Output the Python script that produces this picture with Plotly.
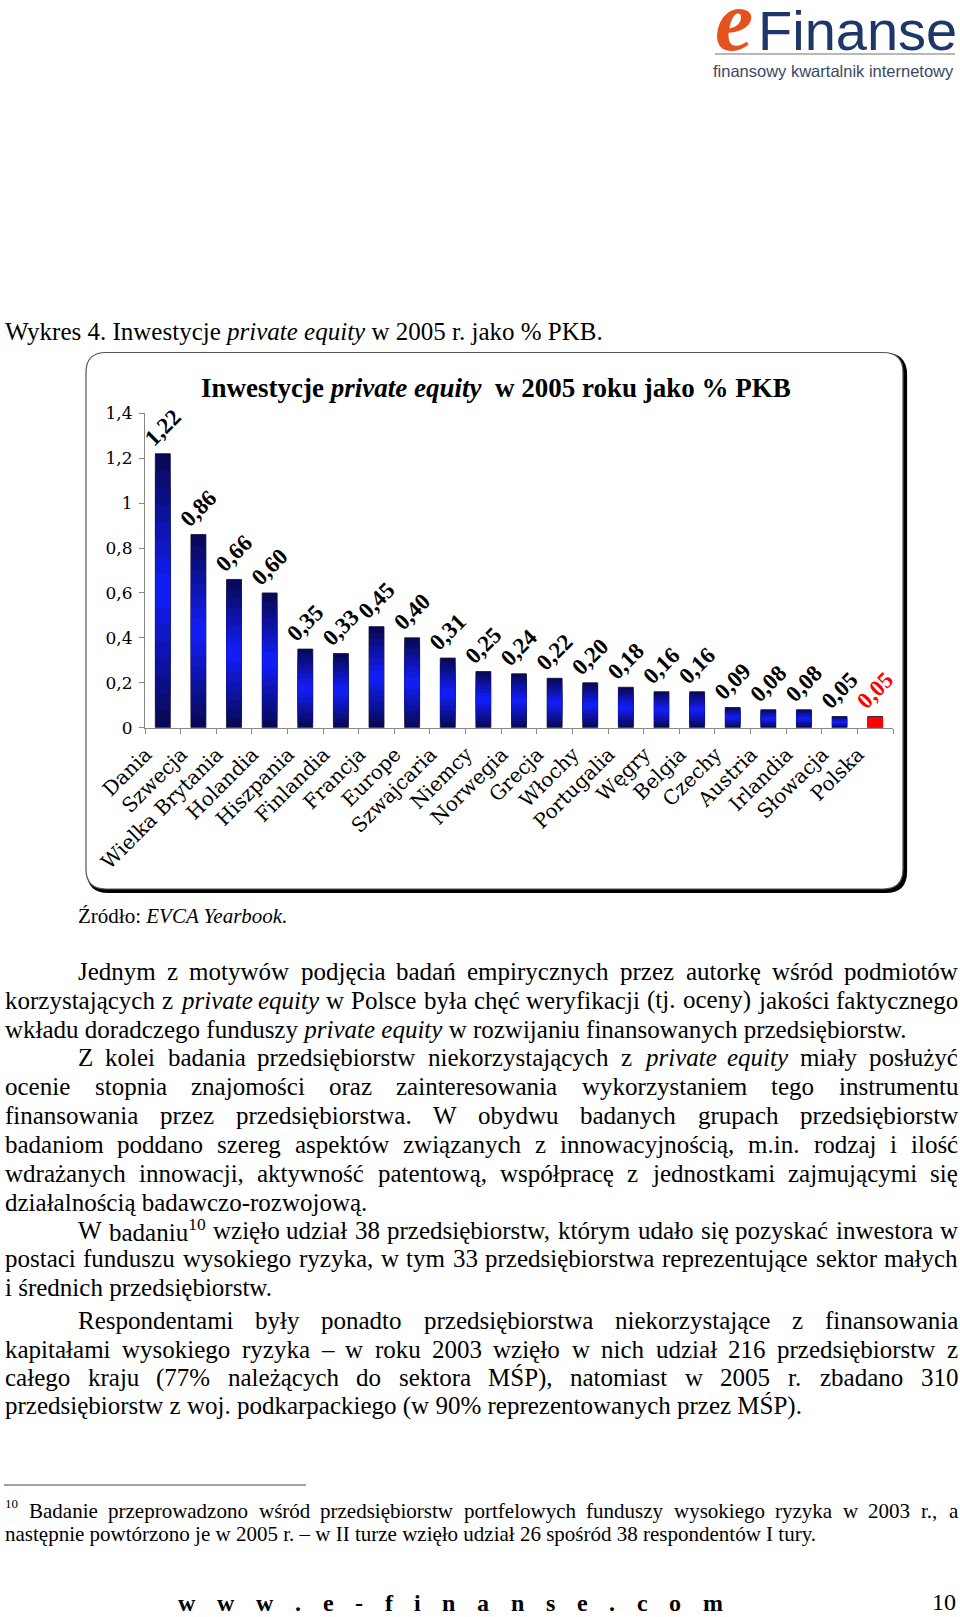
import plotly.graph_objects as go

# ---------------- data ----------------
countries = ["Dania", "Szwecja", "Wielka Brytania", "Holandia", "Hiszpania", "Finlandia",
             "Francja", "Europe", "Szwajcaria", "Niemcy", "Norwegia", "Grecja", "Włochy",
             "Portugalia", "Węgry", "Belgia", "Czechy", "Austria", "Irlandia", "Słowacja", "Polska"]
values = [1.22, 0.86, 0.66, 0.60, 0.35, 0.33, 0.45, 0.40, 0.31, 0.25, 0.24, 0.22, 0.20,
          0.18, 0.16, 0.16, 0.09, 0.08, 0.08, 0.05, 0.05]
highlight = "Polska"
y_tick_values = [0, 0.2, 0.4, 0.6, 0.8, 1.0, 1.2, 1.4]

chart_title = "Inwestycje <i>private equity</i>\u00a0 w 2005 roku jako % PKB"
caption = [("Wykres 4. Inwestycje ", "n"), ("private equity", "i"), (" w 2005 r. jako % PKB.", "n")]
source = [("Źródło: ", "n"), ("EVCA Yearbook.", "i")]

# body lines: (segments, justified, indent)
body = [
    ([("Jednym z motywów podjęcia badań empirycznych przez autorkę wśród podmiotów", "n")], True, True),
    ([("korzystających z ", "n"), ("private equity", "i"), (" w Polsce była chęć weryfikacji (tj. oceny) jakości faktycznego", "n")], True, False),
    ([("wkładu doradczego funduszy ", "n"), ("private equity", "i"), (" w rozwijaniu finansowanych przedsiębiorstw.", "n")], False, False),
    ([("Z kolei badania przedsiębiorstw niekorzystających z ", "n"), ("private equity", "i"), (" miały posłużyć", "n")], True, True),
    ([("ocenie stopnia znajomości oraz zainteresowania wykorzystaniem tego instrumentu", "n")], True, False),
    ([("finansowania przez przedsiębiorstwa. W obydwu badanych grupach przedsiębiorstw", "n")], True, False),
    ([("badaniom poddano szereg aspektów związanych z innowacyjnością, m.in. rodzaj i ilość", "n")], True, False),
    ([("wdrażanych innowacji, aktywność patentową, współpracę z jednostkami zajmującymi się", "n")], True, False),
    ([("działalnością badawczo-rozwojową.", "n")], False, False),
    ([("W badaniu", "n"), ("10", "sup"), (" wzięło udział 38 przedsiębiorstw, którym udało się pozyskać inwestora w", "n")], True, True),
    ([("postaci funduszu wysokiego ryzyka, w tym 33 przedsiębiorstwa reprezentujące sektor małych", "n")], True, False),
    ([("i średnich przedsiębiorstw.", "n")], False, False),
    ([("Respondentami były ponadto przedsiębiorstwa niekorzystające z finansowania", "n")], True, True),
    ([("kapitałami wysokiego ryzyka – w roku 2003 wzięło w nich udział 216 przedsiębiorstw z", "n")], True, False),
    ([("całego kraju (77% należących do sektora MŚP), natomiast w 2005 r. zbadano 310", "n")], True, False),
    ([("przedsiębiorstw z woj. podkarpackiego (w 90% reprezentowanych przez MŚP).", "n")], False, False),
]
body_y = [971.3, 1000.2, 1029.0, 1057.9, 1086.8, 1115.6, 1144.5, 1173.4, 1202.2,
          1230.0, 1258.5, 1287.0, 1320.5, 1349.0, 1377.5, 1405.5]

footnote = [
    ([("Badanie przeprowadzono wśród przedsiębiorstw portfelowych funduszy wysokiego ryzyka w 2003 r., a", "n")], True),
    ([("następnie powtórzono je w 2005 r. – w II turze wzięło udział 26 spośród 38 respondentów I tury.", "n")], False),
]
footer_text = "www.e-finanse.com"
page_number = "10"

# ---------------- helpers ----------------
W, H = 960, 1617


def fx(p):
    return p / W


def fy(p):
    return 1 - p / H


REG = {' ': 250, '!': 333, '%': 833, '(': 333, ')': 333, ',': 250, '-': 333, '.': 250,
       ':': 278, ';': 278, '?': 444, '–': 500}
ITA = dict(REG)
for d in '0123456789':
    REG[d] = 500
    ITA[d] = 500
REG.update(dict(A=722, B=667, C=667, D=722, E=611, F=556, G=722, H=722, I=333, J=389, K=722, L=611,
                M=889, N=722, O=722, P=556, Q=722, R=667, S=556, T=611, U=722, V=722, W=944, X=722,
                Y=722, Z=611, a=444, b=500, c=444, d=500, e=444, f=333, g=500, h=500, i=278, j=278,
                k=500, l=278, m=778, n=500, o=500, p=500, q=500, r=333, s=389, t=278, u=500, v=500,
                w=722, x=500, y=500, z=444))
ITA.update(dict(A=611, B=611, C=667, D=722, E=611, F=611, G=722, H=722, I=333, J=444, K=667, L=556,
                M=833, N=667, O=722, P=611, Q=722, R=611, S=500, T=556, U=722, V=611, W=833, X=611,
                Y=556, Z=556, a=500, b=500, c=444, d=500, e=444, f=278, g=500, h=500, i=278, j=278,
                k=444, l=278, m=722, n=500, o=500, p=500, q=500, r=389, s=389, t=278, u=500, v=444,
                w=667, x=444, y=444, z=389))
BOLD = {'w': 722, 'e': 444, 'f': 333, 'i': 278, 'n': 556, 'a': 500, 's': 389, 'c': 444,
        'o': 500, 'm': 833, '.': 250, '-': 333}
DIAC = {'ą': 'a', 'ć': 'c', 'ę': 'e', 'ł': 'l', 'ń': 'n', 'ó': 'o', 'ś': 's', 'ź': 'z', 'ż': 'z',
        'Ą': 'A', 'Ć': 'C', 'Ę': 'E', 'Ł': 'L', 'Ń': 'N', 'Ó': 'O', 'Ś': 'S', 'Ź': 'Z', 'Ż': 'Z'}


def char_w(ch, st):
    ch = DIAC.get(ch, ch)
    tab = ITA if st == 'i' else REG
    w = tab.get(ch, 500)
    return w * (0.7 if st == 'sup' else 1.0)


def seg_html(t, st):
    if st == 'i':
        return "<i>" + t + "</i>"
    if st == 'sup':
        return "<sup>" + t + "</sup>"
    return t


def split_words(segs):
    words = [[]]
    for text, st in segs:
        parts = text.split(' ')
        for j, p in enumerate(parts):
            if j > 0:
                words.append([])
            if p:
                words[-1].append((p, st))
    return [w for w in words if w]


annotations = []
FONT = "Liberation Serif"


def ann(x, y, text, size, xanchor='left', color='#000000', family=FONT, weight=None, style=None):
    f = dict(family=family, size=size, color=color)
    if weight:
        f['weight'] = weight
    if style:
        f['style'] = style
    annotations.append(dict(x=fx(x), y=fy(y), xref='paper', yref='paper', text=text,
                            showarrow=False, xanchor=xanchor, yanchor='middle', font=f,
                            borderpad=0))


def text_line(segs, x0, x1, y, size, justify):
    if not justify:
        ann(x0, y, "".join(seg_html(t, s) for t, s in segs), size)
        return
    words = split_words(segs)
    widths = [sum(char_w(c, st) for t, st in wd for c in t) / 1000 * size for wd in words]
    gap = (x1 - x0 - sum(widths)) / max(1, len(words) - 1)
    x = x0
    for wd, w in zip(words, widths):
        ann(x, y, "".join(seg_html(t, s) for t, s in wd), size)
        x += w + gap


# caption / source
text_line(caption, 4, 957, 331, 25, False)
text_line(source, 77, 957, 915.6, 21, False)

# body
for (segs, just, indent), y in zip(body, body_y):
    text_line(segs, 77 if indent else 4, 957, y, 25, just)

# footnote
ann(4, 1503.5, "10", 13)
text_line(footnote[0][0], 28, 957, 1510.6, 21, footnote[0][1])
text_line(footnote[1][0], 4, 957, 1534.3, 21, footnote[1][1])

# footer with spread letters
fsize = 24
gl = [BOLD.get(c, 500) / 1000 * fsize for c in footer_text]
fgap = (722 - 177 - sum(gl)) / (len(footer_text) - 1)
xx = 177
for c, w in zip(footer_text, gl):
    ann(xx, 1602.5, c, fsize, weight='bold')
    xx += w + fgap
ann(957, 1602, page_number, 24, xanchor='right')

# chart title
ann(496, 388, chart_title, 27, xanchor='center', weight='bold')

# logo
ann(734, 21, "e", 86, xanchor='center', color='#e4521e', weight='bold', style='italic')
ann(757, 30.5, "Finanse", 56, xanchor='left', color='#1c3768', family='Liberation Sans')
ann(833, 71, "finansowy kwartalnik internetowy", 16.5, xanchor='center', color='#3b4766',
    family='Liberation Sans')


# ---------------- shapes ----------------
def rrect(x0, y0, x1, y1, r):
    return (f"M {fx(x0 + r)},{fy(y0)} L {fx(x1 - r)},{fy(y0)} Q {fx(x1)},{fy(y0)} {fx(x1)},{fy(y0 + r)} "
            f"L {fx(x1)},{fy(y1 - r)} Q {fx(x1)},{fy(y1)} {fx(x1 - r)},{fy(y1)} "
            f"L {fx(x0 + r)},{fy(y1)} Q {fx(x0)},{fy(y1)} {fx(x0)},{fy(y1 - r)} "
            f"L {fx(x0)},{fy(y0 + r)} Q {fx(x0)},{fy(y0)} {fx(x0 + r)},{fy(y0)} Z")


shapes = [
    dict(type='path', xref='paper', yref='paper', path=rrect(88.5, 354.5, 905.5, 891.5, 20),
         line=dict(color='#000000', width=3.2), fillcolor='#000000', layer='below'),
    dict(type='path', xref='paper', yref='paper', path=rrect(86, 352.5, 903, 889, 20),
         line=dict(color='#555555', width=1.2), fillcolor='#ffffff', layer='below'),
    dict(type='line', xref='paper', yref='paper', x0=fx(715), x1=fx(955), y0=fy(54), y1=fy(54),
         line=dict(color='#a0a0a0', width=1.5)),
    dict(type='line', xref='paper', yref='paper', x0=fx(4), x1=fx(306), y0=fy(1485), y1=fy(1485),
         line=dict(color='#444444', width=1.2)),
]

# ---------------- bars (vertical gradient emulated by overlaid bars) ----------------
fig = go.Figure()
L = 8
dark = (8, 8, 80)
bright = (18, 30, 252)
labels = [f"{v:.2f}".replace('.', ',') for v in values]
for k in range(L):
    h = 1 - k / L
    hn = 1 - (k + 1) / L
    t = 1 - (h + hn) / 2
    col = 'rgb(%d,%d,%d)' % tuple(round(dark[i] + (bright[i] - dark[i]) * t) for i in range(3))
    colors = ['#ff0000' if c == highlight else col for c in countries]
    if k == 0:
        kw = dict(text=labels, textposition='outside', textangle=-45, constraintext='none',
                  textfont=dict(family=FONT, size=23, weight='bold',
                                color=['#ff0000' if c == highlight else '#000000' for c in countries]))
    else:
        kw = dict(textposition='none')
    fig.add_trace(go.Bar(
        x=countries, y=[v * h for v in values], base=[v * (1 - h) / 2 for v in values],
        width=0.42, cliponaxis=False, showlegend=False, hoverinfo='skip',
        marker=dict(color=colors, line=dict(width=0.8 if k == 0 else 0, color='#0b0b30')),
        **kw))

fig.update_layout(
    width=W, height=H, margin=dict(l=0, r=0, t=0, b=0),
    template='none', paper_bgcolor='#ffffff', plot_bgcolor='rgba(0,0,0,0)',
    barmode='overlay', separators=', ', showlegend=False,
    shapes=shapes, annotations=annotations,
    xaxis=dict(domain=[fx(145), fx(893)], type='category', range=[-0.5, 20.5],
               tickangle=-45, tickson='boundaries', ticks='outside', ticklen=5, tickcolor='#888888',
               showline=True, linecolor='#888888', linewidth=1, showgrid=False, zeroline=False,
               tickfont=dict(family='DejaVu Serif', size=20, color='#000000'), automargin=False,
               ticklabelstandoff=6, ticklabelshift=-17),
    yaxis=dict(domain=[fy(727.7), fy(413.3)], range=[0, 1.4], tickvals=y_tick_values,
               ticks='outside', ticklen=5, tickcolor='#888888', showline=True, linecolor='#888888',
               linewidth=1, showgrid=False, zeroline=False, automargin=False,
               tickfont=dict(family='DejaVu Serif', size=17, color='#000000'),
               ticklabelstandoff=3),
)

fig.write_html("out.html", config={'displayModeBar': False},
               post_script="document.body.style.margin='0';document.body.style.padding='0';"
                           "document.body.style.overflow='hidden';")
